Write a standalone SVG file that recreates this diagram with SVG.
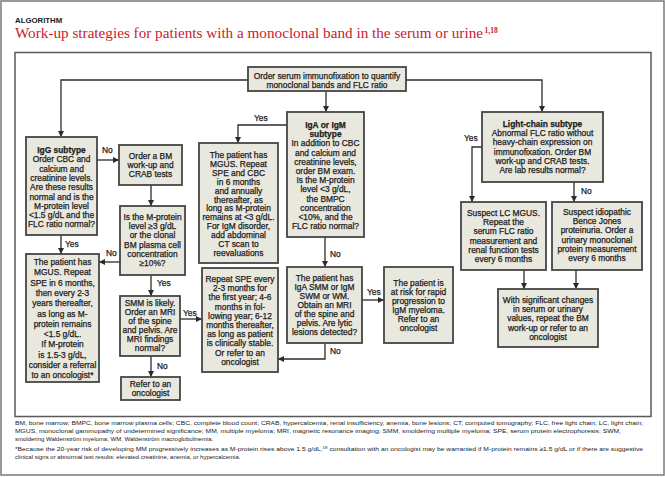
<svg xmlns="http://www.w3.org/2000/svg" width="665" height="477" viewBox="0 0 665 477">
<defs>
<style>
.bx{fill:#e9e8df;stroke:#454545;stroke-width:1.8}
.t{font-family:"Liberation Sans",Arial,sans-serif;font-size:8.4px;fill:#1c1c1c;text-anchor:middle;stroke:#1c1c1c;stroke-width:0.25}
.h{font-weight:bold}
.lb{font-family:"Liberation Sans",Arial,sans-serif;font-size:8.4px;fill:#1c1c1c;stroke:#1c1c1c;stroke-width:0.25}
.c{fill:none;stroke:#2b2b2b;stroke-width:1.3}
.fn{font-family:"Liberation Sans",Arial,sans-serif;font-size:6px;fill:#222}
</style>
<marker id="ah" markerWidth="6" markerHeight="6" refX="6" refY="3" orient="auto" markerUnits="userSpaceOnUse"><path d="M0,0 L6,3 L0,6 z" fill="#2b2b2b"/></marker>
</defs>
<rect x="0" y="0" width="665" height="477" fill="#ffffff"/>
<rect x="1" y="1" width="663" height="474" fill="none" stroke="#7a7a7a" stroke-width="1.5"/>
<text x="15" y="23" font-family="Liberation Sans,Arial,sans-serif" font-size="7.8" font-weight="bold" fill="#1c1c1c">ALGORITHM</text>
<text x="15" y="38" font-family="Liberation Serif,Times New Roman,serif" font-size="15" fill="#c8202f" textLength="468" lengthAdjust="spacingAndGlyphs">Work-up strategies for patients with a monoclonal band in the serum or urine</text>
<text x="484.5" y="32.5" font-family="Liberation Serif,Times New Roman,serif" font-size="7.5" font-weight="bold" fill="#c8202f">1,18</text>
<rect x="15" y="52.5" width="636" height="364" fill="none" stroke="#5a5a5a" stroke-width="1.5"/>

<g id="connectors">
<path class="c" d="M248,80 H61 V137" marker-end="url(#ah)"/>
<path class="c" d="M406,80 H542 V112" marker-end="url(#ah)"/>
<path class="c" d="M326,91 V112" marker-end="url(#ah)"/>
<path class="c" d="M97,160 H119" marker-end="url(#ah)"/>
<path class="c" d="M151,185 V206" marker-end="url(#ah)"/>
<path class="c" d="M61,235 V254" marker-end="url(#ah)"/>
<path class="c" d="M120,262 H99" marker-end="url(#ah)"/>
<path class="c" d="M151,275 V296" marker-end="url(#ah)"/>
<path class="c" d="M180,319 H202" marker-end="url(#ah)"/>
<path class="c" d="M151,356 V377" marker-end="url(#ah)"/>
<path class="c" d="M287,125 H238 V143" marker-end="url(#ah)"/>
<path class="c" d="M325,237 V267" marker-end="url(#ah)"/>
<path class="c" d="M362,300 H384" marker-end="url(#ah)"/>
<path class="c" d="M325,343 V359 H278" marker-end="url(#ah)"/>
<path class="c" d="M482,147 H472 V202" marker-end="url(#ah)"/>
<path class="c" d="M574,182 V202" marker-end="url(#ah)"/>
<path class="c" d="M524,270 V289" marker-end="url(#ah)"/>
<path class="c" d="M576,270 V289" marker-end="url(#ah)"/>
<text class="lb" x="102" y="153">No</text>
<text class="lb" x="65" y="247">Yes</text>
<text class="lb" x="106" y="256">No</text>
<text class="lb" x="157" y="286">Yes</text>
<text class="lb" x="183" y="316">Yes</text>
<text class="lb" x="157" y="369">No</text>
<text class="lb" x="254" y="121">Yes</text>
<text class="lb" x="330" y="257">No</text>
<text class="lb" x="367" y="295">Yes</text>
<text class="lb" x="330" y="354">No</text>
<text class="lb" x="464" y="141">Yes</text>
<text class="lb" x="581" y="194">No</text>
</g>

<g id="n-top">
<rect class="bx" x="248" y="67" width="158" height="24"/>
<text class="t" x="327" y="78.5">Order serum immunofixation to quantify</text>
<text class="t" x="327" y="88">monoclonal bands and FLC ratio</text>
</g>

<g id="n-igg">
<rect class="bx" x="26" y="137" width="71" height="98"/>
<text class="t" x="61.5" y="153"><tspan class="h">IgG subtype</tspan><tspan x="61.5" dy="9.3">Order CBC and</tspan><tspan x="61.5" dy="9.3">calcium and</tspan><tspan x="61.5" dy="9.3">creatinine levels.</tspan><tspan x="61.5" dy="9.3">Are these results</tspan><tspan x="61.5" dy="9.3">normal and is the</tspan><tspan x="61.5" dy="9.3">M-protein level</tspan><tspan x="61.5" dy="9.3">&lt;1.5 g/dL and the</tspan><tspan x="61.5" dy="9.3">FLC ratio normal?</tspan></text>
</g>

<g id="n-bm">
<rect class="bx" x="119" y="145" width="63" height="40"/>
<text class="t" x="150.5" y="159"><tspan>Order a BM</tspan><tspan x="150.5" dy="9">work-up and</tspan><tspan x="150.5" dy="9">CRAB tests</tspan></text>
</g>

<g id="n-q">
<rect class="bx" x="120" y="206" width="65" height="69"/>
<text class="t" x="152.5" y="220"><tspan>Is the M-protein</tspan><tspan x="152.5" dy="9.2">level ≥3 g/dL</tspan><tspan x="152.5" dy="9.2">or the clonal</tspan><tspan x="152.5" dy="9.2">BM plasma cell</tspan><tspan x="152.5" dy="9.2">concentration</tspan><tspan x="152.5" dy="9.2">≥10%?</tspan></text>
</g>

<g id="n-mgus-left">
<rect class="bx" x="26" y="254" width="73" height="128"/>
<text class="t" x="62.5" y="265"><tspan>The patient has</tspan><tspan x="62.5" dy="10.3">MGUS. Repeat</tspan><tspan x="62.5" dy="10.3">SPE in 6 months,</tspan><tspan x="62.5" dy="10.3">then every 2-3</tspan><tspan x="62.5" dy="10.3">years thereafter,</tspan><tspan x="62.5" dy="10.3">as long as M-</tspan><tspan x="62.5" dy="10.3">protein remains</tspan><tspan x="62.5" dy="10.3">&lt;1.5 g/dL.</tspan><tspan x="62.5" dy="10.3">If M-protein</tspan><tspan x="62.5" dy="10.3">is 1.5-3 g/dL,</tspan><tspan x="62.5" dy="10.3">consider a referral</tspan><tspan x="62.5" dy="10.3">to an oncologist*</tspan></text>
</g>

<g id="n-smm">
<rect class="bx" x="120" y="296" width="60" height="60"/>
<text class="t" x="150" y="306"><tspan>SMM is likely.</tspan><tspan x="150" dy="9">Order an MRI</tspan><tspan x="150" dy="9">of the spine</tspan><tspan x="150" dy="9">and pelvis. Are</tspan><tspan x="150" dy="9">MRI findings</tspan><tspan x="150" dy="9">normal?</tspan></text>
</g>

<g id="n-refer">
<rect class="bx" x="121" y="377" width="59" height="23"/>
<text class="t" x="150.5" y="386.5"><tspan>Refer to an</tspan><tspan x="150.5" dy="9">oncologist</tspan></text>
</g>

<g id="n-mgus-center">
<rect class="bx" x="199" y="143" width="79" height="120"/>
<text class="t" x="238.5" y="158"><tspan>The patient has</tspan><tspan x="238.5" dy="8.9">MGUS. Repeat</tspan><tspan x="238.5" dy="8.9">SPE and CBC</tspan><tspan x="238.5" dy="8.9">in 6 months</tspan><tspan x="238.5" dy="8.9">and annually</tspan><tspan x="238.5" dy="8.9">thereafter, as</tspan><tspan x="238.5" dy="8.9">long as M-protein</tspan><tspan x="238.5" dy="8.9">remains at &lt;3 g/dL.</tspan><tspan x="238.5" dy="8.9">For IgM disorder,</tspan><tspan x="238.5" dy="8.9">add abdominal</tspan><tspan x="238.5" dy="8.9">CT scan to</tspan><tspan x="238.5" dy="8.9">reevaluations</tspan></text>
</g>

<g id="n-repeat">
<rect class="bx" x="202" y="268" width="76" height="104"/>
<text class="t" x="240" y="282"><tspan>Repeat SPE every</tspan><tspan x="240" dy="9.2">2-3 months for</tspan><tspan x="240" dy="9.2">the first year; 4-6</tspan><tspan x="240" dy="9.2">months in fol-</tspan><tspan x="240" dy="9.2">lowing year; 6-12</tspan><tspan x="240" dy="9.2">months thereafter,</tspan><tspan x="240" dy="9.2">as long as patient</tspan><tspan x="240" dy="9.2">is clinically stable.</tspan><tspan x="240" dy="9.2">Or refer to an</tspan><tspan x="240" dy="9.2">oncologist</tspan></text>
</g>

<g id="n-iga">
<rect class="bx" x="287" y="112" width="77" height="125"/>
<text class="t" x="325.5" y="128"><tspan class="h">IgA or IgM</tspan><tspan class="h" x="325.5" dy="9.2">subtype</tspan><tspan x="325.5" dy="9.2">In addition to CBC</tspan><tspan x="325.5" dy="9.2">and calcium and</tspan><tspan x="325.5" dy="9.2">creatinine levels,</tspan><tspan x="325.5" dy="9.2">order BM exam.</tspan><tspan x="325.5" dy="9.2">Is the M-protein</tspan><tspan x="325.5" dy="9.2">level &lt;3 g/dL,</tspan><tspan x="325.5" dy="9.2">the BMPC</tspan><tspan x="325.5" dy="9.2">concentration</tspan><tspan x="325.5" dy="9.2">&lt;10%, and the</tspan><tspan x="325.5" dy="9.2">FLC ratio normal?</tspan></text>
</g>

<g id="n-igasmm">
<rect class="bx" x="287" y="267" width="75" height="76"/>
<text class="t" x="324.5" y="281"><tspan>The patient has</tspan><tspan x="324.5" dy="9">IgA SMM or IgM</tspan><tspan x="324.5" dy="9">SWM or WM.</tspan><tspan x="324.5" dy="9">Obtain an MRI</tspan><tspan x="324.5" dy="9">of the spine and</tspan><tspan x="324.5" dy="9">pelvis. Are lytic</tspan><tspan x="324.5" dy="9">lesions detected?</tspan></text>
</g>

<g id="n-risk">
<rect class="bx" x="384" y="267" width="69" height="76"/>
<text class="t" x="418.5" y="286"><tspan>The patient is</tspan><tspan x="418.5" dy="9">at risk for rapid</tspan><tspan x="418.5" dy="9">progression to</tspan><tspan x="418.5" dy="9">IgM myeloma.</tspan><tspan x="418.5" dy="9">Refer to an</tspan><tspan x="418.5" dy="9">oncologist</tspan></text>
</g>

<g id="n-light">
<rect class="bx" x="482" y="112" width="121" height="70"/>
<text class="t" x="542.5" y="127"><tspan class="h">Light-chain subtype</tspan><tspan x="542.5" dy="9.2">Abnormal FLC ratio without</tspan><tspan x="542.5" dy="9.2">heavy-chain expression on</tspan><tspan x="542.5" dy="9.2">immunofixation. Order BM</tspan><tspan x="542.5" dy="9.2">work-up and CRAB tests.</tspan><tspan x="542.5" dy="9.2">Are lab results normal?</tspan></text>
</g>

<g id="n-lcmgus">
<rect class="bx" x="461" y="202" width="85" height="68"/>
<text class="t" x="503.5" y="216"><tspan>Suspect LC MGUS.</tspan><tspan x="503.5" dy="9.2">Repeat the</tspan><tspan x="503.5" dy="9.2">serum FLC ratio</tspan><tspan x="503.5" dy="9.2">measurement and</tspan><tspan x="503.5" dy="9.2">renal function tests</tspan><tspan x="503.5" dy="9.2">every 6 months</tspan></text>
</g>

<g id="n-bj">
<rect class="bx" x="552" y="202" width="90" height="68"/>
<text class="t" x="597" y="215"><tspan>Suspect idiopathic</tspan><tspan x="597" dy="9.2">Bence Jones</tspan><tspan x="597" dy="9.2">proteinuria. Order a</tspan><tspan x="597" dy="9.2">urinary monoclonal</tspan><tspan x="597" dy="9.2">protein measurement</tspan><tspan x="597" dy="9.2">every 6 months</tspan></text>
</g>

<g id="n-changes">
<rect class="bx" x="498" y="289" width="100" height="58"/>
<text class="t" x="548" y="303"><tspan>With significant changes</tspan><tspan x="548" dy="9.2">in serum or urinary</tspan><tspan x="548" dy="9.2">values, repeat the BM</tspan><tspan x="548" dy="9.2">work-up or refer to an</tspan><tspan x="548" dy="9.2">oncologist</tspan></text>
</g>

<g id="footnotes">
<text class="fn" x="15" y="425" textLength="628" lengthAdjust="spacingAndGlyphs">BM, bone marrow; BMPC, bone marrow plasma cells; CBC, complete blood count; CRAB, hypercalcemia, renal insufficiency, anemia, bone lesions; CT, computed tomography; FLC, free light chain; LC, light chain;</text>
<text class="fn" x="15" y="433" textLength="606" lengthAdjust="spacingAndGlyphs">MGUS, monoclonal gammopathy of undetermined significance; MM, multiple myeloma; MRI, magnetic resonance imaging; SMM, smoldering multiple myeloma; SPE, serum protein electrophoresis; SWM,</text>
<text class="fn" x="15" y="441">smoldering Waldenström myeloma; WM, Waldenström macroglobulinemia.</text>
<text class="fn" x="15" y="451" textLength="628" lengthAdjust="spacingAndGlyphs">*Because the 20-year risk of developing MM progressively increases as M-protein rises above 1.5 g/dL,<tspan font-size="4" dy="-2">18</tspan><tspan dy="2"> consultation with an oncologist may be warranted if M-protein remains ≥1.5 g/dL or if there are suggestive</tspan></text>
<text class="fn" x="15" y="459">clinical signs or abnormal test results: elevated creatinine, anemia, or hypercalcemia.</text>
</g>
</svg>
